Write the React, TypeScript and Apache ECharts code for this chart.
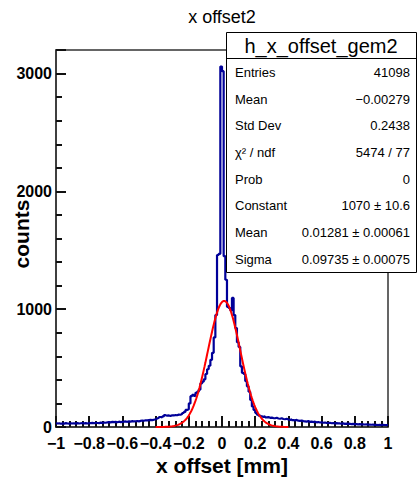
import React, { useEffect, useRef } from 'react';
import * as echarts from 'echarts';

// ---------- data ----------
const histTitle = 'x offset2';
const xAxisTitle = 'x offset [mm]';
const yAxisTitle = 'counts';
const binLow = -1;
const binHigh = 1;
const binWidth = 0.01;
// 200 bins from -1 to 1 (bin width 0.01)
const counts: number[] = [
  30, 32, 28, 31, 29, 33, 30, 28, 32, 30,
  31, 29, 33, 30, 32, 34, 31, 33, 30, 34,
  33, 35, 32, 36, 34, 33, 37, 35, 38, 36,
  40, 42, 39, 44, 41, 43, 40, 45, 42, 44,
  45, 47, 44, 48, 46, 50, 47, 49, 51, 48,
  52, 55, 53, 57, 56, 58, 60, 58, 62, 66,
  72, 78, 85, 82, 90, 100, 96, 98, 94, 100,
  98, 102, 100, 105, 104, 110, 119, 128, 145, 150,
  200, 262, 272, 265, 290, 300, 318, 370, 385, 405,
  450, 490, 520, 570, 630, 760, 950, 1460, 1470, 3060,
  3020, 1450, 1250, 1020, 1010, 990, 1096, 950, 840, 720,
  680, 515, 460, 450, 390, 345, 300, 230, 175, 145,
  120, 105, 96, 90, 86, 90, 82, 84, 78, 80,
  76, 74, 78, 72, 70, 74, 68, 66, 70, 64,
  60, 66, 58, 56, 60, 54, 52, 55, 50, 48,
  46, 50, 44, 46, 42, 45, 40, 42, 38, 40,
  36, 38, 35, 34, 36, 32, 34, 30, 33, 31,
  30, 28, 31, 27, 29, 26, 28, 25, 27, 24,
  25, 23, 24, 22, 23, 21, 22, 20, 21, 19,
  20, 18, 19, 17, 18, 16, 18, 17, 16, 17,
];
// Gaussian fit parameters (from the stats box)
const fitConstant = 1070;
const fitMean = 0.01281;
const fitSigma = 0.09735;
const fitRange = [-0.4, 0.4];
const fitSteps = 160;

const yMax = 3200;
const yMajor = 1000;
const yMinor = 200;
const xMajor = 0.2;
const xMinor = 0.04;

const statsName = 'h_x_offset_gem2';
const statsLabels = ['Entries', 'Mean', 'Std Dev', 'χ² / ndf', 'Prob', 'Constant', 'Mean', 'Sigma'];
const statsValues = ['41098', '\u22120.00279', '0.2438', '5474 / 77', '0', '1070 ± 10.6', '0.01281 ± 0.00061', '0.09735 ± 0.00075'];

// ---------- derived series ----------
const histData: [number, number][] = counts.map((c, i) => [binLow + i * binWidth, c]);
histData.push([binHigh, counts[counts.length - 1]]);

const fitData: [number, number][] = [];
for (let k = 0; k <= fitSteps; k++) {
  const x = fitRange[0] + ((fitRange[1] - fitRange[0]) * k) / fitSteps;
  const d = (x - fitMean) / fitSigma;
  fitData.push([x, fitConstant * Math.exp(-0.5 * d * d)]);
}

const FONT = '"Liberation Sans", Arial, Helvetica, sans-serif';

const G_LEFT = 56;
const G_RIGHT = 388;
const G_TOP = 50;
const G_BOTTOM = 427;
const W = 417;
const H = 477;

const fmtX = (v: number) => {
  const r = Math.round(v * 10) / 10;
  if (r === 0) return '0';
  return r < 0 ? '\u2212' + String(Math.abs(r)) : String(r);
};

const boxL = 226;
const boxR = 416;
const boxT = 32;
const boxB = 272;
const headerLine = 58;
const rowY0 = 72.3;
const rowStep = 26.7;

const statsGraphics: any[] = [
  {
    type: 'rect',
    shape: { x: boxL + 0.5, y: boxT + 0.5, width: boxR - boxL, height: boxB - boxT },
    style: { fill: '#fff', stroke: '#000', lineWidth: 1 },
    z: 100,
  },
  {
    type: 'line',
    shape: { x1: boxL, y1: headerLine + 0.5, x2: boxR, y2: headerLine + 0.5 },
    style: { stroke: '#000', lineWidth: 1 },
    z: 101,
  },
  {
    type: 'text',
    x: (boxL + boxR) / 2,
    y: (boxT + headerLine) / 2 + 1,
    style: { text: statsName, font: `20px ${FONT}`, fill: '#000', textAlign: 'center', textVerticalAlign: 'middle' },
    z: 101,
  },
];
statsLabels.forEach((lab, i) => {
  statsGraphics.push({
    type: 'text',
    x: 235,
    y: rowY0 + i * rowStep,
    style: { text: lab, font: `13px ${FONT}`, fill: '#000', textAlign: 'left', textVerticalAlign: 'middle' },
    z: 101,
  });
  statsGraphics.push({
    type: 'text',
    x: 410,
    y: rowY0 + i * rowStep,
    style: { text: statsValues[i], font: `13px ${FONT}`, fill: '#000', textAlign: 'right', textVerticalAlign: 'middle' },
    z: 101,
  });
});

const tickStyle = { color: '#111', width: 2 };

const option: any = {
  animation: false,
  backgroundColor: '#fff',
  grid: {
    left: G_LEFT,
    right: W - G_RIGHT,
    top: G_TOP,
    bottom: H - G_BOTTOM,
    show: true,
    borderColor: '#333',
    borderWidth: 1.5,
    backgroundColor: 'transparent',
    outerBoundsMode: 'none',
    containLabel: false,
  },
  xAxis: [
    {
      type: 'value',
      min: binLow,
      max: binHigh,
      interval: xMajor,
      position: 'bottom',
      axisLine: { show: true, onZero: false, lineStyle: { color: '#333', width: 1.5 } },
      axisTick: { show: true, inside: true, length: 11, lineStyle: tickStyle },
      splitLine: { show: false },
      axisLabel: {
        formatter: fmtX,
        color: '#000',
        fontFamily: FONT,
        fontWeight: 'bold',
        fontSize: 16,
        margin: 8,
      },
    },
    {
      type: 'value',
      min: binLow,
      max: binHigh,
      interval: xMinor,
      position: 'bottom',
      axisLine: { show: false, onZero: false },
      axisTick: { show: true, inside: true, length: 6, lineStyle: tickStyle },
      splitLine: { show: false },
      axisLabel: { show: false },
    },
  ],
  yAxis: [
    {
      type: 'value',
      min: 0,
      max: yMax,
      interval: yMajor,
      position: 'left',
      axisLine: { show: true, onZero: false, lineStyle: { color: '#333', width: 1.5 } },
      axisTick: { show: true, inside: true, length: 10, lineStyle: tickStyle },
      splitLine: { show: false },
      axisLabel: {
        formatter: (v: number) => (v > 3000 ? '' : String(v)),
        color: '#000',
        fontFamily: FONT,
        fontWeight: 'bold',
        fontSize: 16,
        margin: 4,
      },
    },
    {
      type: 'value',
      min: 0,
      max: yMax,
      interval: yMinor,
      position: 'left',
      axisLine: { show: false, onZero: false },
      axisTick: { show: true, inside: true, length: 6, lineStyle: tickStyle },
      splitLine: { show: false },
      axisLabel: { show: false },
    },
  ],
  series: [
    {
      type: 'line',
      data: histData,
      step: 'end',
      xAxisIndex: 0,
      yAxisIndex: 0,
      showSymbol: false,
      symbol: 'none',
      lineStyle: { color: '#000099', width: 2.2 },
      z: 3,
    },
    {
      type: 'line',
      data: fitData,
      xAxisIndex: 0,
      yAxisIndex: 0,
      showSymbol: false,
      symbol: 'none',
      smooth: false,
      lineStyle: { color: '#ff0000', width: 2 },
      z: 4,
    },
  ],
  graphic: [
    {
      type: 'text',
      x: 222,
      y: 17,
      style: { text: histTitle, font: `18px ${FONT}`, fill: '#000', textAlign: 'center', textVerticalAlign: 'middle' },
    },
    {
      type: 'text',
      x: 222,
      y: 465,
      style: { text: xAxisTitle, font: `bold 21px ${FONT}`, fill: '#000', textAlign: 'center', textVerticalAlign: 'middle' },
    },
    {
      type: 'text',
      x: 21,
      y: 234,
      rotation: Math.PI / 2,
      style: { text: yAxisTitle, font: `bold 21px ${FONT}`, fill: '#000', textAlign: 'center', textVerticalAlign: 'middle' },
    },
    ...statsGraphics,
  ],
};

export default function App() {
  const ref = useRef<HTMLDivElement>(null);
  useEffect(() => {
    if (!ref.current) return;
    const chart = echarts.init(ref.current, null, { renderer: 'svg' });
    chart.setOption(option);
    return () => chart.dispose();
  }, []);
  return (
    <div
      ref={ref}
      style={{ position: 'fixed', left: 0, top: 0, width: W, height: H, background: '#fff' }}
    />
  );
}
